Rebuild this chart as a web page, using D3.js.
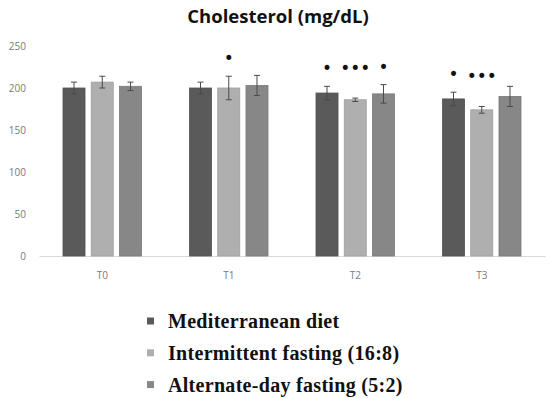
<!DOCTYPE html>
<html>
<head>
<meta charset="utf-8">
<script src="https://cdn.jsdelivr.net/npm/d3@7"></script>
<style>
  body { margin: 0; background: #fff; }
  .tick text { fill: #7a7a7a; }
</style>
</head>
<body>
<div id="container"></div>
<script>
// data
const timepoints = ["T0", "T1", "T2", "T3"];
const seriesNames = ["Mediterranean diet", "Intermittent fasting (16:8)", "Alternate-day fasting (5:2)"];
const meanValues = [
  [200, 200, 194, 187],   // Mediterranean
  [207, 200, 186, 174],   // 16:8
  [202, 203, 193, 190]    // 5:2
];
const errValues = [
  [7, 7, 8, 8],
  [7, 14, 2, 4],
  [5, 12, 11, 12]
];
const stars = [
  ["", "", "*", "*"],
  ["", "*", "***", "***"],
  ["", "", "*", ""]
];
const yTicks = [0, 50, 100, 150, 200, 250];
const colors = ["#5a5a5a", "#afafaf", "#878787"];

// layout
const width = 550, height = 398;
const x0Range = [39, 545];
const yRange = [256, 46];

const svg = d3.select("#container").append("svg")
  .attr("width", width).attr("height", height);

svg.append("text")
  .attr("x", 278).attr("y", 23)
  .attr("text-anchor", "middle")
  .style("font-family", "'Open Sans', sans-serif")
  .style("font-weight", "bold")
  .style("font-size", "18.5px")
  .attr("fill", "#111")
  .text("Cholesterol (mg/dL)");

const x0 = d3.scaleBand().domain(timepoints).range(x0Range);
const x1 = d3.scaleBand().domain(d3.range(3)).range([24, x0.bandwidth() - 24]).paddingInner(0.22);
const y = d3.scaleLinear().domain([0, 250]).range(yRange);

// y axis labels (no line)
const yAxis = svg.append("g")
  .attr("transform", "translate(26,0)")
  .call(d3.axisLeft(y).tickValues(yTicks).tickSize(0).tickPadding(0));
yAxis.select(".domain").remove();
yAxis.selectAll("text")
  .style("font-family", "'Open Sans', sans-serif")
  .style("font-size", "10px");

// x axis
const xAxis = svg.append("g")
  .attr("transform", `translate(0,${y(0)})`)
  .call(d3.axisBottom(x0).tickSize(0).tickPadding(16));
xAxis.select(".domain").attr("stroke", "#d9d9d9").attr("stroke-width", 1.2);
xAxis.selectAll("text")
  .style("font-family", "'Open Sans', sans-serif")
  .style("font-size", "10px");

// bars
const rows = [];
seriesNames.forEach((s, i) => {
  timepoints.forEach((t, j) => {
    rows.push({ s: i, t: t, v: meanValues[i][j], e: errValues[i][j], star: stars[i][j] });
  });
});

const g = svg.append("g");
g.selectAll("rect.bar")
  .data(rows)
  .enter().append("rect")
  .attr("class", "bar")
  .attr("x", d => x0(d.t) + x1(d.s))
  .attr("width", x1.bandwidth())
  .attr("y", d => y(d.v))
  .attr("height", d => y(0) - y(d.v))
  .attr("fill", d => colors[d.s])
  .attr("stroke", d => d3.color(colors[d.s]).darker(0.3))
  .attr("stroke-width", 0.8);

// error bars
const eb = g.selectAll("g.err").data(rows).enter().append("g")
  .attr("class", "err")
  .attr("stroke", "#4a4a4a")
  .attr("stroke-width", 1);
const cx = d => x0(d.t) + x1(d.s) + x1.bandwidth() / 2;
eb.append("line")
  .attr("x1", cx).attr("x2", cx)
  .attr("y1", d => y(d.v + d.e)).attr("y2", d => y(d.v - d.e));
[1, -1].forEach(sign => {
  eb.append("line")
    .attr("x1", d => cx(d) - 3).attr("x2", d => cx(d) + 3)
    .attr("y1", d => y(d.v + sign * d.e)).attr("y2", d => y(d.v + sign * d.e));
});

// significance marks (drawn as bullets like the original)
g.selectAll("text.star")
  .data(rows.filter(d => d.star))
  .enter().append("text")
  .attr("class", "star")
  .attr("x", cx)
  .attr("y", d => y(d.v + d.e) - (d.star.length > 1 ? 30 : 18) + 6)
  .attr("text-anchor", "middle")
  .style("font-family", "'DejaVu Sans', sans-serif")
  .style("font-size", "17px")
  .attr("fill", "#111")
  .text(d => d.star.replace(/\*/g, "•"));

// legend
const legend = svg.append("g");
const lg = legend.selectAll("g").data(seriesNames).enter().append("g")
  .attr("transform", (d, i) => `translate(147,${321 + i * 31.8})`);
lg.append("rect")
  .attr("x", 0).attr("y", -3.5).attr("width", 7).attr("height", 7)
  .attr("fill", (d, i) => colors[i]);
lg.append("text")
  .attr("x", 21).attr("y", 7)
  .style("font-family", "'Liberation Serif', serif")
  .style("font-weight", "bold")
  .style("font-size", "20px")
  .style("letter-spacing", "0.3px")
  .attr("fill", "#111")
  .text(d => d);
</script>
</body>
</html>
